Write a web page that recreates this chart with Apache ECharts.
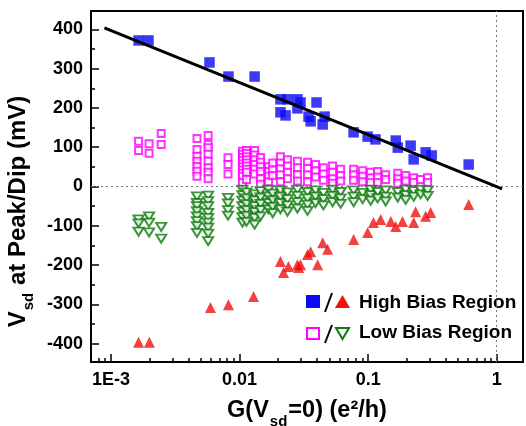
<!DOCTYPE html>
<html><head><meta charset="utf-8">
<script src="https://cdn.jsdelivr.net/npm/echarts@6/dist/echarts.min.js"></script>
<style>html,body{margin:0;padding:0;background:#fff}#c{width:526px;height:426px}</style>
</head><body><div id="c"></div>
<script>
// ---- data (G in e^2/h, Vsd in mV) ----
const xTickLabels = {'-3': '1E-3', '-2': '0.01', '-1': '0.1', '0': '1'};
const yTickValues = [-400, -300, -200, -100, 0, 100, 200, 300, 400];
const yMinorTickValues = [-350, -250, -150, -50, 50, 150, 250, 350];

const highBiasPeak = [[0.00164,372],[0.00196,372],[0.00584,316],[0.0082,280],[0.0131,280],[0.0208,222],[0.0236,222],[0.0282,222],[0.0208,189],[0.0228,181],[0.0282,199],[0.0298,214],[0.0344,178],[0.0357,166],[0.0397,214],[0.0459,178],[0.0443,158],[0.0771,138],[0.0991,127],[0.114,120],[0.164,117],[0.170,99],[0.214,104],[0.226,69],[0.280,87],[0.312,79],[0.605,56]];

const highBiasDip = [[0.00164,-397],[0.00199,-397],[0.00594,-308],[0.0082,-301],[0.01285,-280],[0.0208,-191],[0.022,-219],[0.024,-204],[0.0282,-199],[0.0288,-206],[0.0298,-199],[0.0338,-173],[0.0357,-166],[0.0405,-199],[0.0443,-143],[0.0484,-160],[0.0771,-135],[0.0991,-117],[0.110,-92],[0.125,-84],[0.150,-89],[0.164,-102],[0.185,-89],[0.226,-92],[0.234,-64],[0.280,-76],[0.306,-66],[0.605,-46]];

const lowBiasPeak = [[0.00164,115],[0.00164,92],[0.00198,109],[0.00198,85],[0.00246,135],[0.00246,107],
[0.00467,122],[0.00467,94],[0.00467,77],[0.00467,64],[0.00467,51],[0.00467,39],[0.00467,26],
[0.0057,130],[0.0057,107],[0.0057,99],[0.0057,82],[0.0057,64],[0.0057,48],[0.0057,36],[0.0057,20],
[0.00814,73],[0.00814,56],[0.00814,32],
[0.01055,90],[0.01055,82],[0.01055,74],[0.01055,66],[0.01055,58],[0.01055,50],[0.01055,42],[0.01055,34],[0.01055,26],[0.01055,10],
[0.01133,92],[0.01133,84],[0.01133,76],[0.01133,68],[0.01133,60],[0.01133,52],[0.01133,44],[0.01133,36],[0.01133,18],
[0.0131,92],[0.0131,80],[0.0131,68],[0.0131,56],[0.0131,44],[0.0131,32],
[0.01457,74],[0.01457,62],[0.01457,50],[0.01457,38],[0.01457,20],[0.01457,6],
[0.0168,50],[0.0168,38],[0.0168,26],[0.0168,12],
[0.0181,60],[0.0181,42],[0.0181,28],
[0.0208,76],[0.0208,60],[0.0208,45],[0.0208,30],[0.0208,12],
[0.0236,68],[0.0236,52],[0.0236,36],[0.0236,20],
[0.0282,64],[0.0282,48],[0.0282,30],[0.0282,14],
[0.0338,62],[0.0338,46],[0.0338,30],[0.0338,12],
[0.039,56],[0.039,40],[0.039,24],
[0.0449,48],[0.0449,32],[0.0449,16],
[0.0529,52],[0.0529,36],[0.0529,20],[0.0529,8],
[0.0611,44],[0.0611,28],[0.0611,14],
[0.0771,44],[0.0771,30],[0.0771,16],
[0.0906,40],[0.0906,26],[0.0906,12],
[0.1046,36],[0.1046,22],[0.1046,10],
[0.1186,38],[0.1186,24],[0.1186,10],
[0.1368,30],[0.1368,18],
[0.170,34],[0.170,20],[0.170,8],
[0.196,28],[0.196,14],
[0.226,22],[0.226,10],
[0.256,18],
[0.290,22],[0.290,10]];

const lowBiasDip = [[0.00164,-84],[0.00164,-94],[0.00164,-115],[0.00198,-76],[0.00198,-92],[0.00198,-117],[0.00246,-103],[0.00246,-133],
[0.00467,-25],[0.00467,-42],[0.00467,-50],[0.00467,-63],[0.00467,-76],[0.00467,-88],[0.00467,-101],[0.00467,-118],
[0.0057,-23],[0.0057,-37],[0.0057,-50],[0.0057,-67],[0.0057,-80],[0.0057,-92],[0.0057,-105],[0.0057,-120],[0.0057,-139],
[0.00814,-29],[0.00814,-43],[0.00814,-60],[0.00814,-74],
[0.01055,-8],[0.01055,-22],[0.01055,-36],[0.01055,-50],[0.01055,-64],[0.01055,-78],[0.01055,-92],
[0.01133,-15],[0.01133,-30],[0.01133,-45],[0.01133,-60],[0.01133,-75],[0.01133,-90],
[0.0131,-20],[0.0131,-35],[0.0131,-50],[0.0131,-65],[0.0131,-80],[0.0131,-97],
[0.01457,-12],[0.01457,-28],[0.01457,-44],[0.01457,-60],[0.01457,-76],
[0.0168,-8],[0.0168,-25],[0.0168,-42],[0.0168,-58],
[0.0181,-18],[0.0181,-35],[0.0181,-52],[0.0181,-68],
[0.0208,-10],[0.0208,-26],[0.0208,-42],[0.0208,-58],
[0.0236,-15],[0.0236,-32],[0.0236,-48],[0.0236,-64],
[0.0282,-8],[0.0282,-24],[0.0282,-40],[0.0282,-56],
[0.0338,-14],[0.0338,-30],[0.0338,-46],[0.0338,-62],
[0.039,-10],[0.039,-26],[0.039,-42],
[0.0449,-16],[0.0449,-32],[0.0449,-48],
[0.0529,-8],[0.0529,-24],[0.0529,-40],
[0.0611,-14],[0.0611,-30],[0.0611,-44],
[0.0771,-10],[0.0771,-26],[0.0771,-40],
[0.0906,-16],[0.0906,-32],
[0.1046,-8],[0.1046,-22],[0.1046,-36],
[0.1186,-14],[0.1186,-30],
[0.1368,-10],[0.1368,-26],[0.1368,-38],
[0.170,-14],[0.170,-28],
[0.196,-8],[0.196,-22],[0.196,-34],
[0.226,-12],[0.226,-26],
[0.256,-8],[0.256,-20],
[0.290,-10],[0.290,-24]];

const fitLine = [[0.00089,404],[1.1,-6]];

// ---- chart ----
const FONT = '"Liberation Sans", Arial, sans-serif';
const X_MIN = 7e-4, X_MAX = 1.6;
const xMinorTicks = [];
for (let d = -4; d <= 0; d++) for (let k = 2; k <= 9; k++) {
  const v = d + Math.log10(k);
  if (v > Math.log10(X_MIN) + 0.001 && v < Math.log10(X_MAX)) xMinorTicks.push(v);
}

const chart = echarts.init(document.getElementById('c'), null, {renderer: 'canvas'});
const black = '#000';
const titleRich = (size, subSize, subPad) => ({
  v: {fontFamily: FONT, fontWeight: 'bold', fontSize: size, color: black, verticalAlign: 'top', lineHeight: size + 2},
  s: {fontFamily: FONT, fontWeight: 'bold', fontSize: subSize, color: black, verticalAlign: 'top', lineHeight: subSize, padding: [subPad, 1, 0, 1]}
});
chart.setOption({
  animation: false,
  backgroundColor: '#fff',
  grid: {left: 91, top: 11, right: 3, bottom: 64, outerBoundsMode: 'none', containLabel: false,
    show: true, borderColor: black, borderWidth: 2, backgroundColor: 'transparent'},
  xAxis: [{
    type: 'log', logBase: 10, min: X_MIN, max: X_MAX,
    axisLine: {show: true, onZero: false, lineStyle: {color: black, width: 2}},
    axisTick: {show: true, inside: true, length: 8, lineStyle: {color: black, width: 1.5}},
    axisLabel: {show: true, showMinLabel: false, showMaxLabel: false, margin: 9,
      color: black, fontFamily: FONT, fontWeight: 'bold', fontSize: 18,
      formatter: v => { const k = String(Math.round(Math.log10(v))); return xTickLabels[k] || ''; }},
    splitLine: {show: false},
    nameLocation: 'middle', nameGap: 37,
    name: '{v|G(V}{s|sd}{v|=0) (e²/h)}',
    nameTextStyle: {fontFamily: FONT, fontWeight: 'bold', fontSize: 23.5, color: black, rich: titleRich(23.5, 15, 15)}
  }, {
    type: 'value', min: Math.log10(X_MIN), max: Math.log10(X_MAX), position: 'bottom',
    axisLine: {show: false, onZero: false},
    axisTick: {show: true, inside: true, length: 4, customValues: xMinorTicks, lineStyle: {color: black, width: 1.5}},
    axisLabel: {show: false}, splitLine: {show: false}
  }],
  yAxis: [{
    type: 'value', min: -447, max: 447,
    axisLine: {show: true, onZero: false, lineStyle: {color: black, width: 2}},
    axisTick: {show: true, inside: true, length: 8, customValues: yTickValues, lineStyle: {color: black, width: 1.5}},
    axisLabel: {show: true, customValues: yTickValues, margin: 8, color: black, fontFamily: FONT, fontWeight: 'bold', fontSize: 18},
    splitLine: {show: false},
    nameLocation: 'middle', nameRotate: 90, nameGap: 47,
    name: '{v|V}{s|sd}{v| at Peak/Dip (mV)}',
    nameTextStyle: {fontFamily: FONT, fontWeight: 'bold', fontSize: 24, color: black, padding: [0, 50, 0, 0], rich: titleRich(24, 15, 15)}
  }, {
    type: 'value', min: -447, max: 447, position: 'left',
    axisLine: {show: false, onZero: false},
    axisTick: {show: true, inside: true, length: 4, customValues: yMinorTickValues, lineStyle: {color: black, width: 1.5}},
    axisLabel: {show: false}, splitLine: {show: false}
  }],
  series: [
    {
      type: 'line', data: [], xAxisIndex: 0, yAxisIndex: 0, z: 1,
      markLine: {silent: true, symbol: 'none', label: {show: false},
        lineStyle: {type: [2, 3], color: '#777', width: 1},
        data: [{yAxis: 0}, {xAxis: 1}]}
    },
    {type: 'scatter', name: 'Low Bias Peak', data: lowBiasPeak, symbol: 'emptyRect', symbolSize: 7,
      itemStyle: {color: '#ff00ff', borderColor: '#ff00ff', borderWidth: 2}, z: 2},
    {type: 'scatter', name: 'Low Bias Dip', data: lowBiasDip, symbol: 'emptyTriangle', symbolSize: [10, 8], symbolRotate: 180,
      itemStyle: {color: '#0e7a0e', borderColor: '#0e7a0e', borderWidth: 2}, z: 3},
    {type: 'scatter', name: 'High Bias Dip', data: highBiasDip, symbol: 'triangle', symbolSize: 11,
      itemStyle: {color: '#f01010'}, z: 4},
    {type: 'scatter', name: 'High Bias Peak', data: highBiasPeak, symbol: 'rect', symbolSize: 10.5,
      itemStyle: {color: '#0a0af5'}, z: 5},
    {type: 'line', name: 'Fit', data: fitLine, showSymbol: false, symbol: 'none',
      lineStyle: {color: black, width: 3}, z: 6}
  ],
  graphic: [
    {type: 'rect', shape: {x: 306, y: 295, width: 14, height: 13}, style: {fill: '#0a0af5'}},
    {type: 'line', shape: {x1: 325, y1: 312, x2: 332, y2: 293}, style: {stroke: black, lineWidth: 2}},
    {type: 'polygon', shape: {points: [[335, 308], [350, 308], [342.5, 295]]}, style: {fill: '#f01010'}},
    {type: 'text', x: 359, y: 303, style: {text: 'High Bias Region', font: 'bold 19px ' + FONT, fill: black, verticalAlign: 'middle'}},
    {type: 'rect', shape: {x: 307, y: 328, width: 12, height: 11}, style: {fill: '#fff', stroke: '#ff00ff', lineWidth: 2}},
    {type: 'line', shape: {x1: 325, y1: 343, x2: 332, y2: 325}, style: {stroke: black, lineWidth: 2}},
    {type: 'polygon', shape: {points: [[336, 328], [349, 328], [342.5, 339]]}, style: {fill: '#fff', stroke: '#0e7a0e', lineWidth: 2}},
    {type: 'text', x: 359, y: 333, style: {text: 'Low Bias Region', font: 'bold 19px ' + FONT, fill: black, verticalAlign: 'middle'}}
  ]
});
</script></body></html>
